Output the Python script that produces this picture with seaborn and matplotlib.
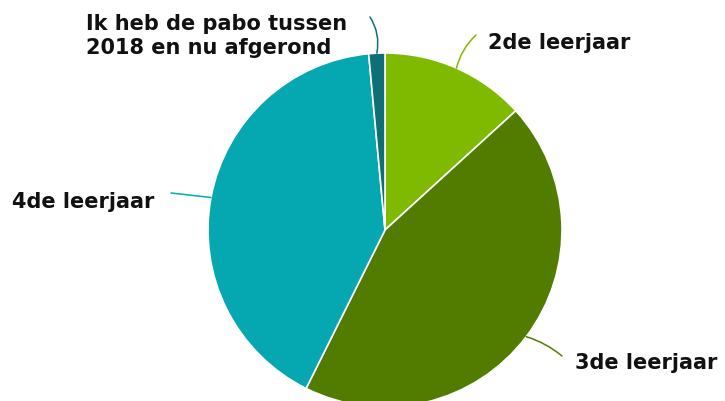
import numpy as np
import seaborn as sns
import matplotlib.pyplot as plt

# pie of years (leerjaar) in which students finished
labels = ["2de leerjaar", "3de leerjaar", "4de leerjaar", "Ik heb de pabo tussen\n2018 en nu afgerond"]
counts = [9, 30, 28, 1]
colors = ["#7fba00", "#517c00", "#05a7b0", "#0e6f76"]

sns.set_style("white")
plt.rcParams['font.family'] = ['DejaVu Sans']

W, H = 725, 401
fig = plt.figure(figsize=(W / 100, H / 100), dpi=100)
ax = fig.add_axes([0, 0, 1, 1])

cx, cy, r = 385, H - 230, 177
wedges, _ = ax.pie(counts, colors=colors, startangle=90, counterclock=False,
                   center=(cx, cy), radius=r, frame=True,
                   wedgeprops=dict(edgecolor='white', linewidth=1.2))
ax.set_xlim(0, W)
ax.set_ylim(0, H)
ax.set_aspect('equal')
ax.axis('off')

# label text position (left, center y in pixels from top), leader end, curvature
text_pos = [(488, 43), (575, 363), (12, 202), (86, 36)]
line_end = [(476, 35), (562, 356), (171, 193), (370, 17)]
rads = [0.15, 0.1, 0.0, -0.2]

for w, lab, col, tp, le, rad in zip(wedges, labels, colors, text_pos, line_end, rads):
    ang = np.deg2rad((w.theta1 + w.theta2) / 2)
    px, py = cx + r * np.cos(ang), cy + r * np.sin(ang)
    ax.annotate("", xy=(px, py), xytext=(le[0], H - le[1]),
                arrowprops=dict(arrowstyle='-', color=col, lw=1.1,
                                connectionstyle=f"arc3,rad={rad}",
                                shrinkA=0, shrinkB=0))
    ax.text(tp[0], H - tp[1], lab, ha='left', va='center', fontsize=15,
            fontweight='bold', color='#111111', linespacing=1.2)

fig.savefig("out.png", dpi=100)
